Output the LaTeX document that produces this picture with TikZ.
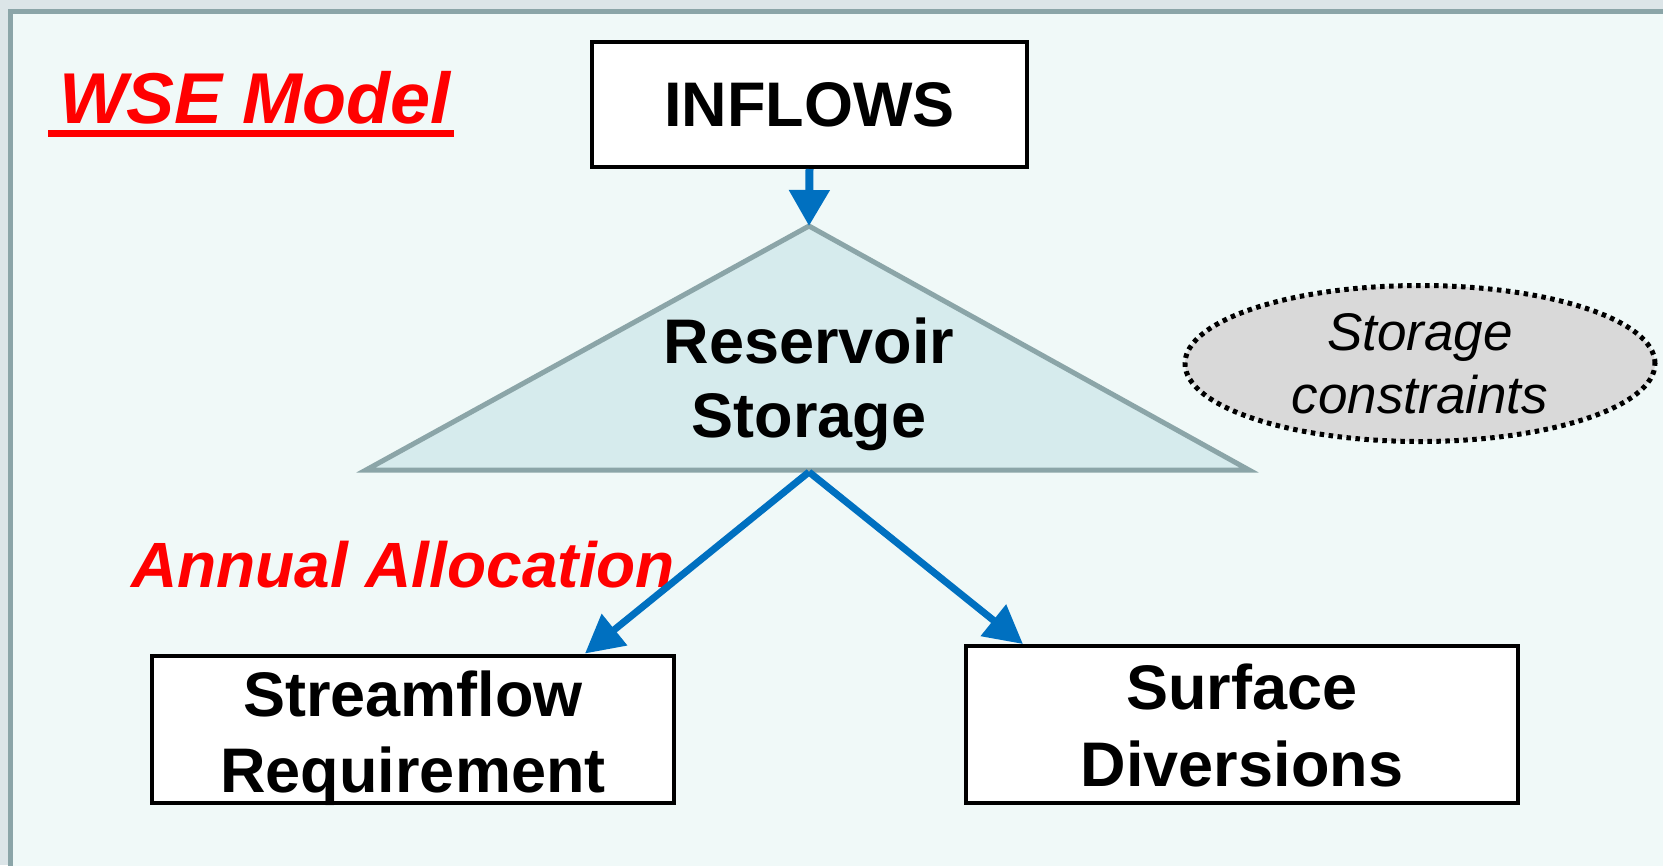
\documentclass[tikz,border=0pt]{standalone}
\usepackage{fontspec}
\setmainfont{Liberation Sans}
\usetikzlibrary{calc}
\usetikzlibrary{arrows.meta}
\usetikzlibrary{shapes.geometric}

\definecolor{pagebg}{RGB}{220,229,232}
\definecolor{framegray}{RGB}{139,165,168}
\definecolor{panelbg}{RGB}{240,249,248}
\definecolor{resfill}{RGB}{214,235,237}
\definecolor{flowblue}{RGB}{0,112,192}
\definecolor{limitgray}{RGB}{217,217,217}

\tikzset{
  box/.style={draw=black, line width=4pt, fill=white, inner sep=0pt, align=center,
    font=\fontsize{63}{76}\selectfont\bfseries},
  flow/.style={draw=flowblue, line width=7pt, -{Triangle[length=38pt,width=39pt]}},
  redtitle/.style={text=red, inner sep=0pt, anchor=base, font=\bfseries\itshape},
}

\begin{document}
\begin{tikzpicture}[x=1pt,y=-1pt]
\useasboundingbox (0,0) rectangle (1663,865);
\fill[pagebg] (0,0) rectangle (1663,865);
\draw[framegray, fill=panelbg, line width=5pt] (10.5,11.5) rectangle (1680,880);

% title
\node[redtitle, font=\fontsize{72}{80}\selectfont\bfseries\itshape] (wse) at (255,123) {WSE Model};
\fill[red] (48,130) rectangle (454,137);

% top box
\node[box, minimum width=435pt, minimum height=125pt] (inflows) at (809.5,104.5) {INFLOWS};

% reservoir
\coordinate (apex) at (809,226);
\coordinate (baseL) at (366,470);
\coordinate (baseR) at (1249,470);
\coordinate (basemid) at (809,472);
\draw[framegray, fill=resfill, line width=5pt, line join=miter] (apex) -- (baseL) -- (baseR) -- cycle;
\node[align=center, inner sep=0pt, anchor=base, font=\fontsize{63}{74}\selectfont\bfseries] (res) at (809,437) {Reservoir\\Storage};

% constraint
\node[ellipse, draw=black, fill=limitgray, line width=5pt, dash pattern=on 4.5pt off 4.5pt,
  minimum width=470pt, minimum height=156pt, inner sep=0pt, align=center,
  font=\fontsize{53}{63}\selectfont\itshape] (limits) at (1420,363.5) {Storage\\constraints};

% lower boxes
\node[box, minimum width=522pt, minimum height=147pt, text height=127pt, text depth=0pt] (stream) at (413,729) {Streamflow\\Requirement};
\node[box, minimum width=552pt, minimum height=157pt, text height=123pt, text depth=0pt, font=\fontsize{63}{77}\selectfont\bfseries] (surface) at (1242,724.5) {Surface\\Diversions};

\node[redtitle, font=\fontsize{64}{70}\selectfont\bfseries\itshape] (annual) at (403,587) {Annual Allocation};

% flows
\draw[flow, line width=8pt, -{Triangle[length=36pt,width=39pt]}] (inflows.south) -- (apex);
\draw[flow] (basemid) -- ($(stream.north west)!0.827!(stream.north east)$);
\draw[flow] (basemid) -- ($(surface.north west)!0.106!(surface.north east)$);

\end{tikzpicture}
\end{document}
